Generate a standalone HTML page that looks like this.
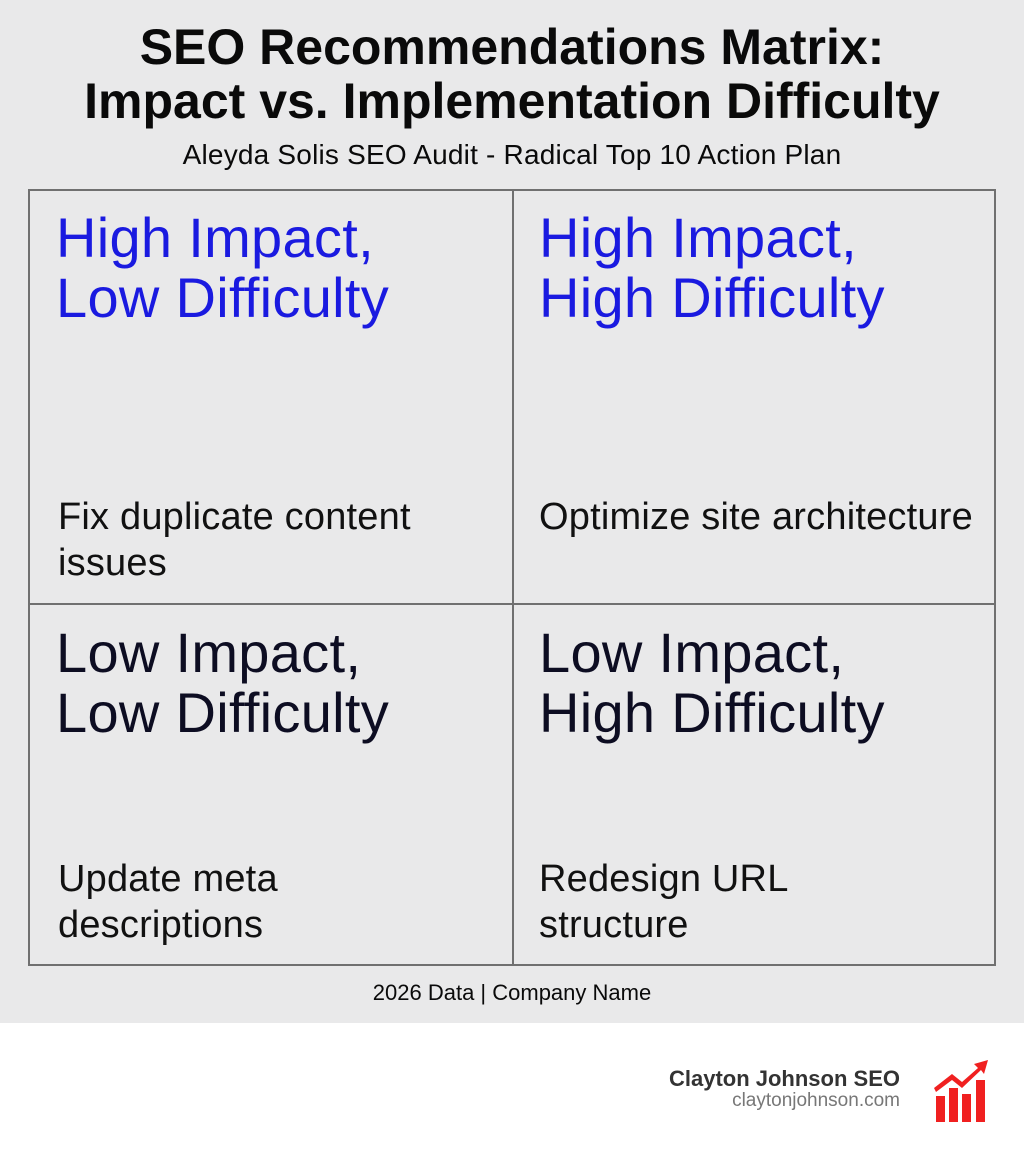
<!DOCTYPE html>
<html><head><style>
body{margin:0;width:1024px;height:1154px;font-family:"Liberation Sans",sans-serif;background:#fff;position:relative;overflow:hidden}
.top{position:absolute;left:0;top:0;width:1024px;height:1023px;background:#e9e9ea}
.t{position:absolute;left:0;width:1024px;text-align:center;color:#0a0a0a}
.grid{position:absolute;left:28px;top:189px;width:968px;height:777px;border:2px solid #707070;box-sizing:border-box}
.vl{position:absolute;left:512px;top:189px;width:2px;height:777px;background:#707070}
.hl{position:absolute;left:28px;top:603px;width:968px;height:2px;background:#707070}
.h{position:absolute;font-size:56px;line-height:60px;letter-spacing:0.3px}
.i{position:absolute;font-size:38px;line-height:46px;color:#111;letter-spacing:0.2px}
</style></head><body>
<div class="top"></div>
<div class="t" style="top:20px;font-size:50px;font-weight:bold;line-height:54px;letter-spacing:0">SEO Recommendations Matrix:<br>Impact vs. Implementation Difficulty</div>
<div class="t" style="top:139px;font-size:28px;letter-spacing:0.2px">Aleyda Solis SEO Audit - Radical Top 10 Action Plan</div>
<div class="grid"></div><div class="vl"></div><div class="hl"></div>
<div class="h" style="left:56px;top:208px;color:#1a1ae0">High Impact,<br>Low Difficulty</div>
<div class="h" style="left:539px;top:208px;color:#1a1ae0">High Impact,<br>High Difficulty</div>
<div class="h" style="left:56px;top:623px;color:#0d0d22">Low Impact,<br>Low Difficulty</div>
<div class="h" style="left:539px;top:623px;color:#0d0d22">Low Impact,<br>High Difficulty</div>
<div class="i" style="left:58px;top:494px">Fix duplicate content<br>issues</div>
<div class="i" style="left:539px;top:494px">Optimize site architecture</div>
<div class="i" style="left:58px;top:856px">Update meta<br>descriptions</div>
<div class="i" style="left:539px;top:856px">Redesign URL<br>structure</div>
<div class="t" style="top:980px;font-size:22px">2026 Data | Company Name</div>
<div style="position:absolute;right:124px;top:1066px;text-align:right;font-size:22px;font-weight:bold;color:#333">Clayton Johnson SEO</div>
<div style="position:absolute;right:124px;top:1090px;text-align:right;font-size:19px;color:#777">claytonjohnson.com</div>
<svg style="position:absolute;left:934px;top:1060px" width="56" height="64" viewBox="0 0 56 64">
<g fill="#f02020"><rect x="2" y="36" width="9" height="26"/><rect x="15" y="28" width="9" height="34"/><rect x="28" y="34" width="9" height="28"/><rect x="42" y="20" width="9" height="42"/>
<polygon points="0,28 18,14 28,22 44,8 40,4 54,0 50,14 47,10 28,28 18,20 2,32"/></g></svg>
</body></html>
